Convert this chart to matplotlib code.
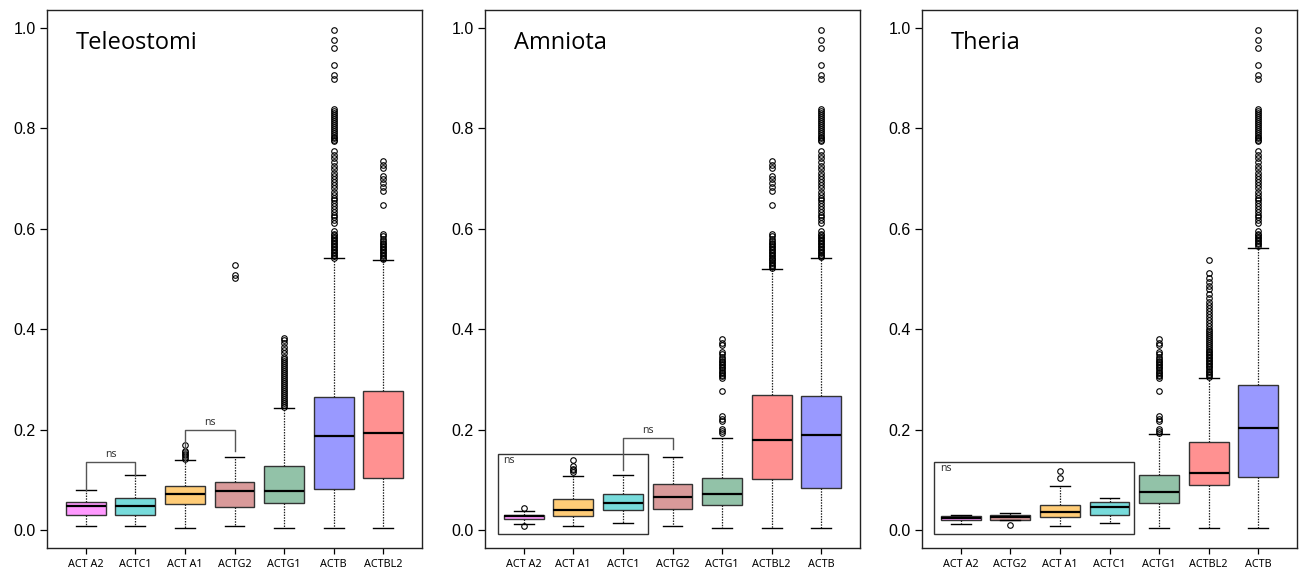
import matplotlib
matplotlib.use("Agg")
import matplotlib.pyplot as plt
from matplotlib.patches import Rectangle

# ---------------- data ----------------
gene_colors = {
    "ACT A2": "#FF99FF",
    "ACTC1": "#77DBDB",
    "ACT A1": "#FFCC77",
    "ACTG2": "#D99A9A",
    "ACTG1": "#92C2A8",
    "ACTB": "#9999FF",
    "ACTBL2": "#FF9191",
}

# shared outlier sets
actb_fliers_low = [0.545, 0.548, 0.551, 0.554, 0.557, 0.560, 0.563, 0.566, 0.569,
                   0.572, 0.575, 0.578, 0.581, 0.584, 0.587, 0.590, 0.595]
actb_fliers_high = [0.612, 0.618, 0.623, 0.628, 0.634, 0.640, 0.645, 0.651, 0.657,
                    0.662, 0.668, 0.674, 0.680, 0.686, 0.692, 0.698, 0.704, 0.711,
                    0.718, 0.725, 0.733, 0.740, 0.747, 0.754, 0.774, 0.777, 0.780,
                    0.783, 0.786, 0.790, 0.794, 0.798, 0.802, 0.806, 0.810, 0.814,
                    0.818, 0.822, 0.826, 0.830, 0.834, 0.838, 0.897, 0.905, 0.925,
                    0.959, 0.976, 0.996]
actbl2_fliers_low = [0.539, 0.542, 0.545, 0.548, 0.551, 0.554, 0.557, 0.560, 0.563,
                     0.566, 0.569, 0.572, 0.576, 0.580, 0.585, 0.590]
actbl2_fliers_high = [0.648, 0.675, 0.683, 0.690, 0.698, 0.705, 0.721, 0.727, 0.734]
actg1_fliers_am = [0.194, 0.197, 0.202, 0.217, 0.222, 0.227, 0.278, 0.304, 0.307,
                   0.310, 0.313, 0.316, 0.319, 0.322, 0.325, 0.328, 0.331, 0.334,
                   0.337, 0.340, 0.345, 0.350, 0.355, 0.368, 0.372, 0.380]

# Teleostomi
tel_labels = ["ACT A2", "ACTC1", "ACT A1", "ACTG2", "ACTG1", "ACTB", "ACTBL2"]
tel_q1 = [0.030, 0.030, 0.053, 0.047, 0.054, 0.0815, 0.104]
tel_med = [0.048, 0.048, 0.0716, 0.079, 0.079, 0.188, 0.193]
tel_q3 = [0.057, 0.064, 0.0875, 0.0968, 0.129, 0.265, 0.278]
tel_lo = [0.0093, 0.0093, 0.0053, 0.0093, 0.0053, 0.0053, 0.0053]
tel_hi = [0.081, 0.110, 0.140, 0.1465, 0.243, 0.541, 0.537]
tel_fliers = [
    [],
    [],
    [0.143, 0.146, 0.149, 0.152, 0.155, 0.158, 0.170],
    [0.501, 0.508, 0.528],
    [0.245, 0.249, 0.253, 0.257, 0.261, 0.265, 0.269, 0.273, 0.277, 0.281, 0.285,
     0.289, 0.293, 0.297, 0.301, 0.305, 0.309, 0.313, 0.317, 0.321, 0.325, 0.329,
     0.333, 0.337, 0.341, 0.345, 0.352, 0.358, 0.365, 0.372, 0.378, 0.383],
    [0.542] + actb_fliers_low + actb_fliers_high,
    actbl2_fliers_low + actbl2_fliers_high,
]

# Amniota
amn_labels = ["ACT A2", "ACT A1", "ACTC1", "ACTG2", "ACTG1", "ACTBL2", "ACTB"]
amn_q1 = [0.023, 0.028, 0.040, 0.0417, 0.051, 0.102, 0.0835]
amn_med = [0.028, 0.041, 0.055, 0.0656, 0.073, 0.180, 0.190]
amn_q3 = [0.031, 0.062, 0.0716, 0.0915, 0.105, 0.269, 0.267]
amn_lo = [0.0126, 0.0093, 0.0146, 0.0093, 0.0053, 0.0053, 0.0053]
amn_hi = [0.038, 0.109, 0.110, 0.1465, 0.183, 0.519, 0.541]
amn_fliers = [
    [0.0086, 0.044],
    [0.117, 0.120, 0.123, 0.128, 0.140],
    [],
    [],
    actg1_fliers_am,
    [0.522, 0.525, 0.528, 0.531, 0.534, 0.537] + actbl2_fliers_low + actbl2_fliers_high,
    [0.544] + actb_fliers_low + actb_fliers_high,
]

# Theria
the_labels = ["ACT A2", "ACTG2", "ACT A1", "ACTC1", "ACTG1", "ACTBL2", "ACTB"]
the_q1 = [0.021, 0.021, 0.0265, 0.030, 0.055, 0.090, 0.107]
the_med = [0.025, 0.027, 0.036, 0.047, 0.077, 0.1147, 0.203]
the_q3 = [0.028, 0.030, 0.050, 0.056, 0.110, 0.1755, 0.290]
the_lo = [0.013, 0.020, 0.0093, 0.0146, 0.0053, 0.0053, 0.0053]
the_hi = [0.031, 0.034, 0.0875, 0.064, 0.192, 0.304, 0.562]
the_fliers = [
    [],
    [0.0099],
    [0.104, 0.118],
    [],
    actg1_fliers_am,
    [0.306, 0.309, 0.312, 0.315, 0.318, 0.321, 0.324, 0.327, 0.330, 0.333, 0.336,
     0.339, 0.342, 0.345, 0.348, 0.351, 0.354, 0.357, 0.360, 0.364, 0.368, 0.372,
     0.376, 0.380, 0.384, 0.388, 0.392, 0.396, 0.400, 0.406, 0.412, 0.418, 0.424,
     0.430, 0.436, 0.442, 0.448, 0.455, 0.462, 0.470, 0.480, 0.487, 0.495, 0.502,
     0.512, 0.537],
    [0.566, 0.569, 0.572, 0.575, 0.578, 0.581, 0.584, 0.587, 0.590, 0.595] + actb_fliers_high,
]

panel_titles = ["Teleostomi", "Amniota", "Theria"]
y_ticks = [0.0, 0.2, 0.4, 0.6, 0.8, 1.0]

# ---------------- plot ----------------
fig = plt.figure(figsize=(13.03, 5.72), dpi=100)
lefts = [47 / 1303, 485 / 1303, 922 / 1303]
width = 375 / 1303
bottom = 1 - 548 / 572
height = (548 - 10) / 572

panels = [
    (tel_labels, tel_q1, tel_med, tel_q3, tel_lo, tel_hi, tel_fliers),
    (amn_labels, amn_q1, amn_med, amn_q3, amn_lo, amn_hi, amn_fliers),
    (the_labels, the_q1, the_med, the_q3, the_lo, the_hi, the_fliers),
]

axes = []
for i, (labels, q1, med, q3, lo, hi, fl) in enumerate(panels):
    ax = fig.add_axes([lefts[i], bottom, width, height])
    axes.append(ax)
    stats = []
    for j in range(len(labels)):
        stats.append(dict(label=labels[j], q1=q1[j], med=med[j], q3=q3[j],
                          whislo=lo[j], whishi=hi[j], fliers=fl[j]))
    pos = list(range(1, len(labels) + 1))
    bp = ax.bxp(stats, positions=pos, widths=0.8, capwidths=0.4, patch_artist=True,
                boxprops=dict(edgecolor="#333333", linewidth=1.0),
                medianprops=dict(color="black", linewidth=1.6),
                whiskerprops=dict(color="#222222", linestyle=(0, (1.2, 1.0)), linewidth=0.9),
                capprops=dict(color="black", linewidth=1.0),
                flierprops=dict(marker="o", markerfacecolor="none", markeredgecolor="black",
                                markersize=4.0, markeredgewidth=0.8, linestyle="none"))
    for patch, lab in zip(bp["boxes"], labels):
        patch.set_facecolor(gene_colors[lab])
    ax.set_xlim(0.22, 7.78)
    ax.set_ylim(-0.035, 1.035)
    ax.set_yticks(y_ticks)
    ax.set_yticklabels([f"{v:.1f}" for v in y_ticks], fontsize=11.5, family="Liberation Sans")
    ax.set_xticks(pos)
    ax.set_xticklabels(labels, fontsize=7.8, family="Noto Sans")
    ax.tick_params(axis="y", length=5, width=0.9, pad=3)
    ax.tick_params(axis="x", length=4, width=0.9, pad=4)
    for s in ax.spines.values():
        s.set_linewidth(1.0)
        s.set_color("#222222")
    ax.text(0.077, 0.939, panel_titles[i], transform=ax.transAxes, fontsize=17,
            family="Open Sans", va="center", ha="left")

bracket_color = "#555555"

def bracket(ax, x1, x2, y, y1, y2):
    ax.plot([x1, x1, x2, x2], [y1, y, y, y2], color=bracket_color, linewidth=1.0)
    ax.text((x1 + x2) / 2, y + 0.004, "ns", ha="center", va="bottom", fontsize=7.5,
            color="#333333", family="Noto Sans")

# Teleostomi brackets
bracket(axes[0], 1, 2, 0.1365, 0.081, 0.110)
bracket(axes[0], 3, 4, 0.199, 0.141, 0.158)
# Amniota bracket and inset
bracket(axes[1], 3, 4, 0.183, 0.120, 0.161)
axes[1].add_patch(Rectangle((0.48, -0.007), 3.5 - 0.48, 0.159, fill=False,
                            edgecolor="#333333", linewidth=1.0))
axes[1].text(0.58, 0.139, "ns", ha="left", va="center", fontsize=7.5, color="#333333",
             family="Noto Sans")
# Theria inset
axes[2].add_patch(Rectangle((0.47, -0.007), 4.5 - 0.47, 0.144, fill=False,
                            edgecolor="#333333", linewidth=1.0))
axes[2].text(0.58, 0.124, "ns", ha="left", va="center", fontsize=7.5, color="#333333",
             family="Noto Sans")

fig.savefig("out.png", dpi=100)
